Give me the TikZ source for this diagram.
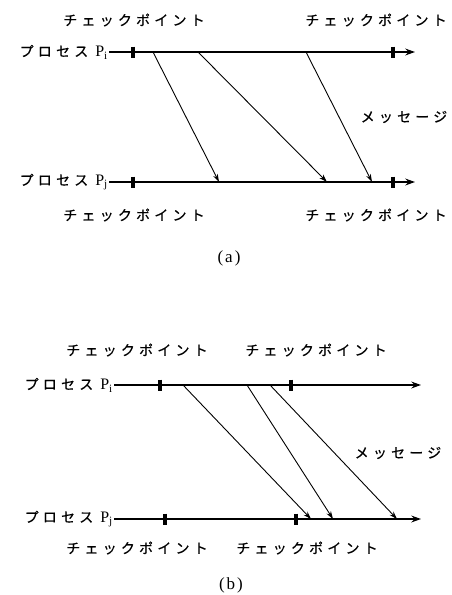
\documentclass[tikz,border=0pt]{standalone}
\usepackage{fontspec}
\setmainfont{Liberation Serif}
\newfontfamily\jpfont[LetterSpace=30,FakeBold=0.5]{Noto Sans CJK JP}
\usetikzlibrary{arrows.meta,positioning}
\tikzstyle{timeline} = [-{Stealth[length=3.4mm,width=2.4mm]}, line width=1.5pt]
\tikzstyle{msg} = [-{Stealth[length=2.8mm,width=1.8mm]}, line width=0.9pt]
\tikzstyle{cptick} = [line width=3.2pt]
\tikzstyle{jplabel} = [font=\jpfont\fontsize{14}{14}\selectfont, inner sep=1pt]
\tikzstyle{caption} = [font=\fontsize{17}{17}\selectfont, inner sep=1pt]
\newcommand{\procname}[1]{プロセス\hspace{7pt}{\rmfamily\fontsize{16}{16}\selectfont P\textsubscript{#1}}}

\begin{document}
\begin{tikzpicture}[x=1pt,y=-1pt]
\useasboundingbox (0,0) rectangle (451,595);

% (a)
\node[jplabel] (cpa1) at (134,20) {チェックポイント};
\node[jplabel] (cpa2) at (376,20) {チェックポイント};
\node[jplabel, anchor=east] (pia) at (109,52) {\procname{i}};
\node[jplabel, anchor=east] (pja) at (109,182) {\procname{j}};
\coordinate (pia end) at (415,52);
\coordinate (pja end) at (415,182);
\draw[timeline] (pia.east) -- (pia end);
\draw[timeline] (pja.east) -- (pja end);
\foreach \x in {133,393}{
  \draw[cptick] (\x,46.5) -- (\x,57.5);
  \draw[cptick] (\x,176.5) -- (\x,187.5);
}
\foreach \a/\b [count=\i] in {153/219,198/327,306/372}{
  \coordinate (sa\i) at (\a,52);
  \coordinate (ra\i) at (\b,182);
  \draw[msg] (sa\i) -- (ra\i);
}
\node[jplabel] (msga) at (404,117) {メッセージ};
\node[jplabel] (cpa3) at (134,215) {チェックポイント};
\node[jplabel] (cpa4) at (376,215) {チェックポイント};
\node[caption] (capa) at (229,258) {(\hspace{2pt}a\hspace{2pt})};

% (b)
\node[jplabel] (cpb1) at (137,350) {チェックポイント};
\node[jplabel] (cpb2) at (316,350) {チェックポイント};
\node[jplabel, anchor=east] (pib) at (114,385) {\procname{i}};
\node[jplabel, anchor=east] (pjb) at (114,519) {\procname{j}};
\coordinate (pib end) at (421,385);
\coordinate (pjb end) at (421,519);
\draw[timeline] (pib.east) -- (pib end);
\draw[timeline] (pjb.east) -- (pjb end);
\foreach \x in {160,291}
  \draw[cptick] (\x,379.5) -- (\x,390.5);
\foreach \x in {165,296}
  \draw[cptick] (\x,513.5) -- (\x,524.5);
\foreach \a/\b [count=\i] in {183/311,247/333,270/397}{
  \coordinate (sb\i) at (\a,385);
  \coordinate (rb\i) at (\b,519);
  \draw[msg] (sb\i) -- (rb\i);
}
\node[jplabel] (msgb) at (398,453) {メッセージ};
\node[jplabel] (cpb3) at (137,548) {チェックポイント};
\node[jplabel] (cpb4) at (307,548) {チェックポイント};
\node[caption] (capb) at (231,585) {(\hspace{2pt}b\hspace{2pt})};
\end{tikzpicture}
\end{document}
